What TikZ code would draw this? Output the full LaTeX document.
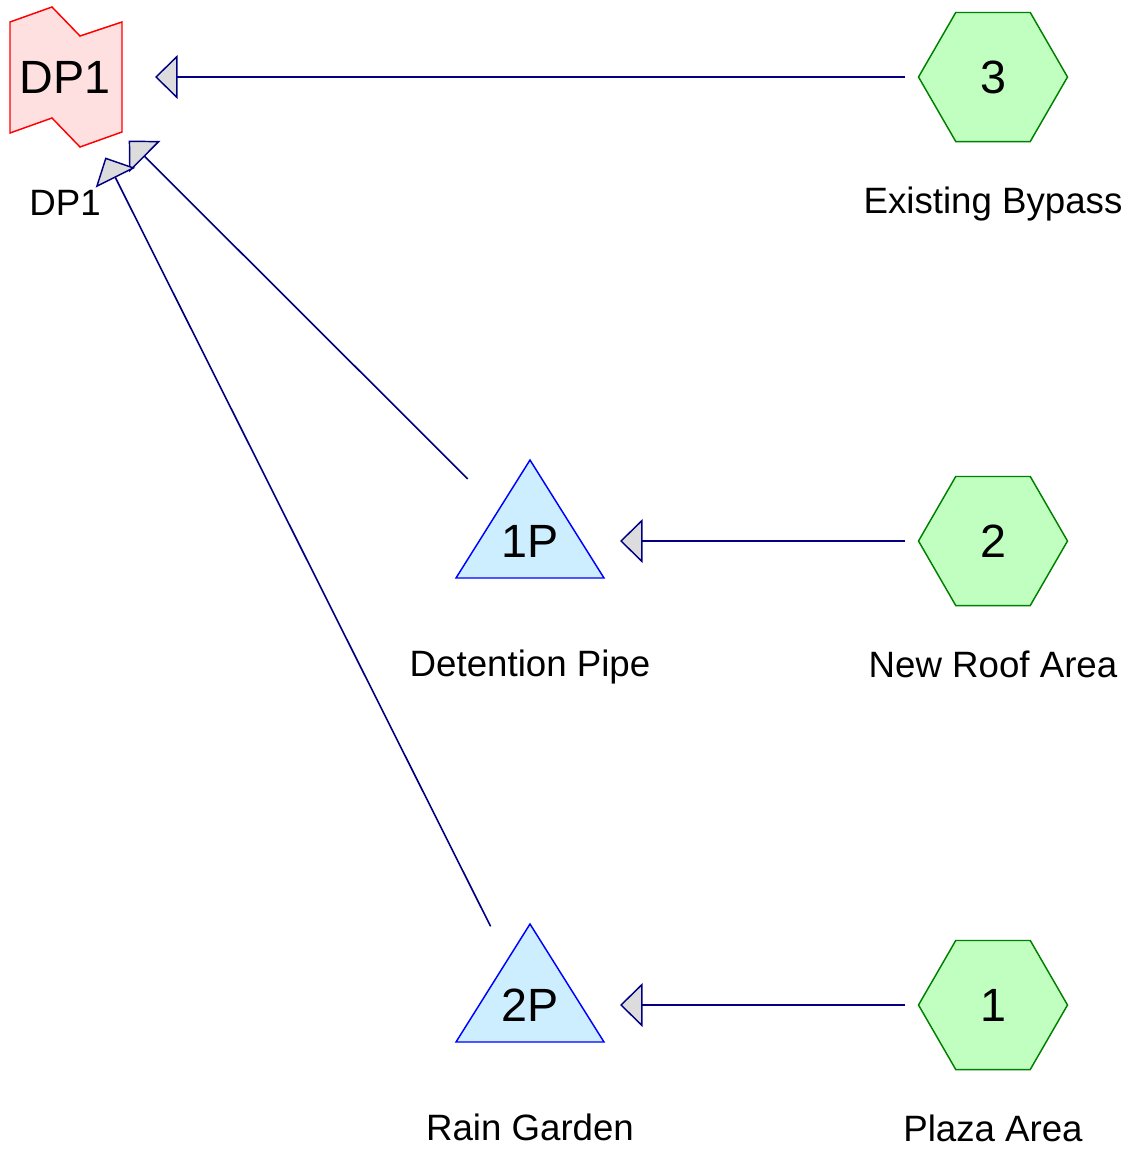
\documentclass[tikz,border=0pt]{standalone}
\usepackage{fontspec}
\setmainfont{Liberation Sans}
\usetikzlibrary{arrows.meta,shapes.geometric}
\definecolor{flowline}{HTML}{000080}
\definecolor{tipgray}{HTML}{DCDCDC}
\definecolor{dpfill}{HTML}{FFE0E0}
\definecolor{dpedge}{HTML}{FF0000}
\definecolor{pondfill}{HTML}{CCEEFF}
\definecolor{pondedge}{HTML}{0000FF}
\definecolor{subfill}{HTML}{C0FFC0}
\definecolor{subedge}{HTML}{008000}

\begin{document}
\begin{tikzpicture}[x=0.75pt, y=-0.75pt, line join=miter,
  bigtxt/.style={font=\fontsize{35}{40}\selectfont, inner sep=0pt},
  lbl/.style={font=\fontsize{27.5}{32}\selectfont, anchor=base, inner sep=0pt},
  subcat/.style={regular polygon, regular polygon sides=6, minimum size=111.75pt,
    fill=subfill, draw=subedge, line width=1.1pt, font=\fontsize{35}{40}\selectfont, inner sep=0pt},
  flow/.style={flowline, line width=1.2pt, shorten <=66pt, shorten >=67.5pt,
    -{Triangle[length=17pt, width=33pt, fill=tipgray, line width=1.1pt]}}]
  \useasboundingbox (0,0) rectangle (1135,1150);
  % design point
  \filldraw[fill=dpfill, draw=dpedge, line width=1.1pt] (10,22) -- (52,7) -- (80,36) -- (122,22)
    -- (122,132) -- (80,147) -- (52,118) -- (10,133) -- cycle;
  \node[bigtxt] (dp1) at (65,77) {DP1};
  \node[lbl] (dp1lbl) at (65,215) {DP1};
  % ponds
  \foreach \n/\t/\y/\l in {p1/1P/541/Detention Pipe, p2/2P/1005/Rain Garden}
    {\filldraw[fill=pondfill, draw=pondedge, line width=1.1pt] (530,\y-81) -- (604,\y+37) -- (456,\y+37) -- cycle;
     \node[bigtxt] (\n) at (530,\y) {\t};
     \node[lbl] (\n lbl) at (530,\y+135) {\l};}
  % subcatchments
  \foreach \n/\t/\y/\l in {s3/3/77/Existing Bypass, s2/2/541/New Roof Area, s1/1/1005/Plaza Area}
    {\node[subcat] (\n) at (993,\y) {\t};
     \node[lbl] (\n lbl) at (993,\y+136) {\l};}
  % links
  \draw[flow] (s3.center) -- (dp1.center);
  \draw[flow] (s2.center) -- (p1.center);
  \draw[flow] (s1.center) -- (p2.center);
  \draw[flow] (p1.center) -- (dp1.center);
  \draw[flow] (p2.center) -- (dp1.center);
\end{tikzpicture}
\end{document}
